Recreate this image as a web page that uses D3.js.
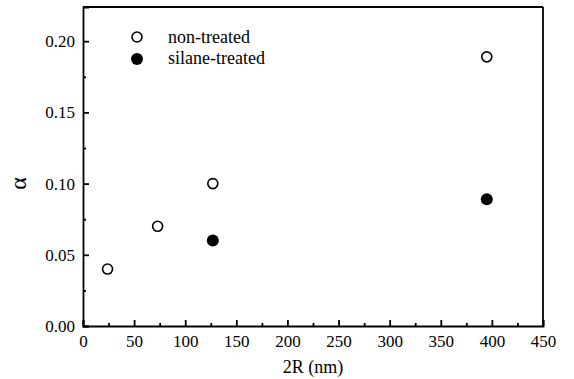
<!DOCTYPE html>
<html>
<head>
<meta charset="utf-8">
<script src="https://cdn.jsdelivr.net/npm/d3@7"></script>
<style>
  body { margin: 0; background: #fff; }
  text { font-family: "Liberation Serif", "Times New Roman", serif; fill: #000; }
</style>
</head>
<body>
<svg id="chart" width="574" height="379"></svg>
<script>
// data
const nonTreatedX = [24, 73, 127, 395];
const nonTreatedY = [0.040, 0.070, 0.100, 0.189];
const silaneX = [127, 395];
const silaneY = [0.060, 0.089];
const xTicks = [0, 50, 100, 150, 200, 250, 300, 350, 400, 450];
const yTicks = [0.00, 0.05, 0.10, 0.15, 0.20];

const margin = { top: 7, right: 31, bottom: 53, left: 83 };
const width = 574 - margin.left - margin.right;
const height = 379 - margin.top - margin.bottom;

const svg = d3.select("#chart");
const g = svg.append("g")
  .attr("transform", `translate(${margin.left},${margin.top})`);

const x = d3.scaleLinear().domain([0, 450]).range([0, width]);
const y = d3.scaleLinear().domain([0, 0.224]).range([height, 0]);

// minor ticks (inward)
const xMinor = d3.range(25, 450, 50);
const yMinor = [0.025, 0.075, 0.125, 0.175];

const xAxis = g.append("g")
  .attr("transform", `translate(0,${height})`)
  .call(d3.axisBottom(x).tickValues(xTicks).tickSize(-6).tickPadding(9).tickFormat(d3.format("d")));
xAxis.selectAll("text").style("font-size", "17px");

g.append("g")
  .attr("transform", `translate(0,${height})`)
  .call(d3.axisBottom(x).tickValues(xMinor).tickSize(-3).tickFormat(""))
  .call(a => a.select(".domain").remove());

const yAxis = g.append("g")
  .call(d3.axisLeft(y).tickValues(yTicks).tickSize(-6).tickPadding(8).tickFormat(d3.format(".2f")));
yAxis.selectAll("text").style("font-size", "17px");

g.append("g")
  .call(d3.axisLeft(y).tickValues(yMinor).tickSize(-3).tickFormat(""))
  .call(a => a.select(".domain").remove());

g.selectAll(".domain, .tick line").attr("stroke", "#000").attr("stroke-width", 1.8);

// frame top and right
g.append("line").attr("x1", 0).attr("x2", width).attr("y1", 0).attr("y2", 0)
  .attr("stroke", "#000").attr("stroke-width", 1.8);
g.append("line").attr("x1", width).attr("x2", width).attr("y1", 0).attr("y2", height)
  .attr("stroke", "#000").attr("stroke-width", 1.8);

// points
g.selectAll(".open")
  .data(nonTreatedX.map((d, i) => [d, nonTreatedY[i]]))
  .enter().append("circle")
  .attr("cx", d => x(d[0]))
  .attr("cy", d => y(d[1]))
  .attr("r", 5)
  .attr("fill", "#fff")
  .attr("stroke", "#000")
  .attr("stroke-width", 1.6);

g.selectAll(".filled")
  .data(silaneX.map((d, i) => [d, silaneY[i]]))
  .enter().append("circle")
  .attr("cx", d => x(d[0]))
  .attr("cy", d => y(d[1]))
  .attr("r", 6)
  .attr("fill", "#000");

// legend
const legend = g.append("g").attr("transform", "translate(54,30)");
legend.append("circle").attr("cx", 0).attr("cy", 0).attr("r", 5)
  .attr("fill", "#fff").attr("stroke", "#000").attr("stroke-width", 1.6);
legend.append("text").attr("x", 31).attr("y", 6).style("font-size", "18px").text("non-treated");
legend.append("circle").attr("cx", 0).attr("cy", 22).attr("r", 6).attr("fill", "#000");
legend.append("text").attr("x", 31).attr("y", 27).style("font-size", "18px").text("silane-treated");

// axis titles
svg.append("text")
  .attr("x", margin.left + width / 2)
  .attr("y", 373)
  .attr("text-anchor", "middle")
  .style("font-size", "18px")
  .text("2R (nm)");

svg.append("text")
  .attr("transform", `translate(26,${margin.top + y(0.1)}) rotate(-90)`)
  .attr("text-anchor", "middle")
  .style("font-size", "24px")
  .text("α");
</script>
</body>
</html>
